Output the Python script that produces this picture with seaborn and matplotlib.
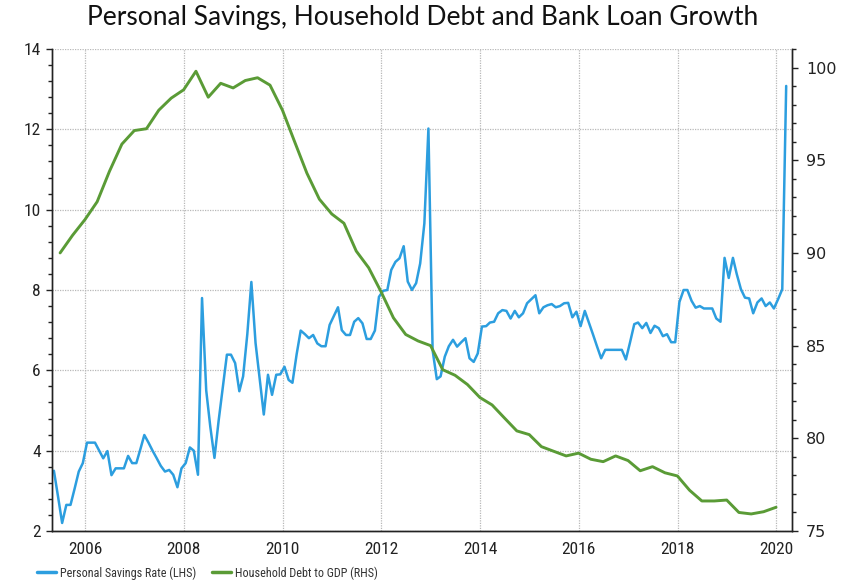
import numpy as np
import pandas as pd
import matplotlib
matplotlib.use("Agg")
import matplotlib.pyplot as plt
import matplotlib.dates as mdates
from matplotlib.lines import Line2D
from matplotlib.ticker import MultipleLocator
from matplotlib import font_manager
import seaborn as sns

# Personal savings rate, monthly, % (May 2005 - Mar 2020)
sr_2005 = [3.5, 2.85, 2.2, 2.65, 2.65, 3.05, 3.48, 3.69]
sr_2006 = [4.2, 4.2, 4.2, 4.0, 3.81, 3.99, 3.39, 3.56, 3.56, 3.56, 3.87, 3.69]
sr_2007 = [3.69, 4.05, 4.39, 4.2, 4.0, 3.81, 3.62, 3.48, 3.52, 3.4, 3.09, 3.56]
sr_2008 = [3.69, 4.08, 4.0, 3.4, 7.8, 5.5, 4.6, 3.82, 4.75, 5.55, 6.39, 6.39]
sr_2009 = [6.18, 5.48, 5.85, 6.9, 8.2, 6.68, 5.8, 4.9, 5.89, 5.39, 5.89, 5.9]
sr_2010 = [6.09, 5.76, 5.69, 6.4, 6.99, 6.9, 6.8, 6.88, 6.67, 6.6, 6.6, 7.13]
sr_2011 = [7.35, 7.57, 7.0, 6.88, 6.88, 7.21, 7.3, 7.17, 6.78, 6.78, 6.99, 7.83]
sr_2012 = [7.98, 8.0, 8.5, 8.7, 8.79, 9.09, 8.21, 8.0, 8.17, 8.66, 9.66, 12.02]
sr_2013 = [6.5, 5.78, 5.85, 6.34, 6.6, 6.76, 6.59, 6.7, 6.8, 6.3, 6.21, 6.42]
sr_2014 = [7.09, 7.1, 7.19, 7.21, 7.42, 7.5, 7.48, 7.29, 7.48, 7.32, 7.42, 7.67]
sr_2015 = [7.77, 7.87, 7.42, 7.57, 7.62, 7.65, 7.57, 7.6, 7.67, 7.68, 7.32, 7.46]
sr_2016 = [7.1, 7.48, 7.2, 6.9, 6.6, 6.3, 6.51, 6.51, 6.51, 6.51, 6.51, 6.27]
sr_2017 = [6.7, 7.15, 7.19, 7.05, 7.18, 6.93, 7.11, 7.05, 6.85, 6.9, 6.7, 6.7]
sr_2018 = [7.7, 8.0, 8.0, 7.73, 7.56, 7.6, 7.54, 7.54, 7.54, 7.29, 7.21, 8.8]
sr_2019 = [8.3, 8.8, 8.4, 8.02, 7.81, 7.79, 7.42, 7.69, 7.79, 7.6, 7.69, 7.54]
sr_2020 = [7.77, 8.02, 13.08]

# Household debt to GDP, quarterly, % (Q2 2005 - Q4 2019)
debt_gdp = [
    90.0, 90.95, 91.8, 92.76, 94.4, 95.87, 96.6, 96.7, 97.7, 98.35,
    98.8, 99.8, 98.4, 99.15, 98.9, 99.3, 99.45, 99.05, 97.7, 96.0,
    94.3, 92.9, 92.1, 91.6, 90.1, 89.2, 87.9, 86.5, 85.6, 85.25,
    85.0, 83.7, 83.4, 82.9, 82.2, 81.8, 81.1, 80.4, 80.2, 79.55,
    79.3, 79.05, 79.2, 78.87, 78.74, 79.05, 78.8, 78.25, 78.47, 78.14,
    77.97, 77.2, 76.62, 76.62, 76.67, 76.0, 75.92, 76.04, 76.28,
]

title = "Personal Savings, Household Debt and Bank Loan Growth"
label_lhs = "Personal Savings Rate (LHS)"
label_rhs = "Household Debt to GDP (RHS)"

savings = (sr_2005 + sr_2006 + sr_2007 + sr_2008 + sr_2009 + sr_2010 + sr_2011
           + sr_2012 + sr_2013 + sr_2014 + sr_2015 + sr_2016 + sr_2017 + sr_2018
           + sr_2019 + sr_2020)
months = pd.date_range("2005-05-01", periods=len(savings), freq="MS") + pd.Timedelta(days=14)
quarters = pd.date_range("2005-06-30", periods=len(debt_gdp), freq="QE")

df_sr = pd.DataFrame({"date": months, "value": savings})
df_debt = pd.DataFrame({"date": quarters, "value": debt_gdp})

BLUE = "#2C9EDF"
GREEN = "#5A9B36"

sns.set_style("white")


def _weight(f):
    w = f.weight
    if isinstance(w, str):
        return {"light": 300, "normal": 400, "regular": 400, "book": 400,
                "medium": 500, "bold": 700}.get(w, 400)
    return int(w)


def narrow_font():
    """Return (family, stretch, weight, found) for a condensed sans face, regular weight preferred."""
    entries = [f for f in font_manager.fontManager.ttflist if f.style == "normal"]
    named = ("Liberation Sans Narrow", "Open Sans Condensed", "Roboto Condensed",
             "Noto Sans Condensed", "DejaVu Sans Condensed", "Noto Sans SemiCondensed")
    stretched = ("Noto Sans", "Open Sans", "DejaVu Sans", "Roboto")
    for wanted in (400, 300):
        for fam in named:
            for f in entries:
                if f.name == fam and _weight(f) == wanted:
                    return fam, "normal", wanted, True
        for fam in stretched:
            for f in entries:
                if f.name == fam and _weight(f) == wanted and \
                        str(f.stretch) in ("condensed", "semi-condensed"):
                    return fam, f.stretch, wanted, True
    return "Liberation Sans", "normal", 400, False


NARROW, STRETCH, WEIGHT, HAS_NARROW = narrow_font()
plt.rcParams["font.family"] = [NARROW, "DejaVu Sans"]
plt.rcParams["font.stretch"] = STRETCH
plt.rcParams["font.weight"] = WEIGHT

fig = plt.figure(figsize=(8.45, 5.87), dpi=100)
ax = fig.add_axes([52 / 845, 1 - 531 / 587, (792 - 52) / 845, (531 - 49) / 587])
ax2 = ax.twinx()

sns.lineplot(data=df_sr, x="date", y="value", ax=ax, color=BLUE, linewidth=1.8, legend=False)
sns.lineplot(data=df_debt, x="date", y="value", ax=ax2, color=GREEN, linewidth=2.1, legend=False)

ax.set_xlim(pd.Timestamp("2005-05-01"), pd.Timestamp("2020-04-27"))
ax.set_ylim(2, 14)
ax2.set_ylim(75, 101)

ax.xaxis.set_major_locator(mdates.YearLocator(2))
ax.xaxis.set_major_formatter(mdates.DateFormatter("%Y"))
ax.xaxis.set_minor_locator(mdates.MonthLocator(bymonth=[1, 4, 7, 10]))
ax.yaxis.set_major_locator(MultipleLocator(2))
ax.yaxis.set_minor_locator(MultipleLocator(0.4))
ax2.set_yticks([75, 80, 85, 90, 95, 100])
ax2.yaxis.set_minor_locator(MultipleLocator(1))

ax.set_xlabel("")
ax.set_ylabel("")
ax2.set_ylabel("")

ax.grid(True, which="major", color="#b8b8b8", linestyle=(0, (1, 1)), linewidth=0.9)
ax.set_axisbelow(True)

for a in (ax, ax2):
    a.spines["top"].set_visible(False)
    for s in ("left", "right", "bottom"):
        a.spines[s].set_color("#222222")
        a.spines[s].set_linewidth(1.0)

tick_size = 12.5 if HAS_NARROW else 12
ax.tick_params(axis="both", which="major", direction="out", length=4, width=1,
               color="#222222", labelsize=tick_size, labelcolor="#222222", pad=4)
ax.tick_params(axis="both", which="minor", direction="out", length=3, width=1, color="#222222")
ax.tick_params(axis="y", which="both", right=False)
ax2.tick_params(axis="y", which="major", direction="out", length=4, width=1,
                color="#222222", labelsize=11.5, labelcolor="#222222", pad=6)
ax2.tick_params(axis="y", which="minor", direction="out", length=3, width=1, color="#222222")
for lbl in ax2.get_yticklabels():
    lbl.set_fontfamily("DejaVu Sans")
    lbl.set_fontstretch("normal")
    lbl.set_fontweight("normal")

fig.suptitle(title, x=0.5, y=1 - 17 / 587, va="center", fontsize=19,
             family=["Lato", "DejaVu Sans"], fontstretch="normal", fontweight="normal",
             color="#111111")

# Legend row under the axis: short line keys, no frame
handles = [Line2D([], [], color=BLUE, linewidth=2.5),
           Line2D([], [], color=GREEN, linewidth=2.5)]
legend_size = 8.7 if HAS_NARROW else 8.0
fig.legend(handles, [label_lhs, label_rhs], loc="center left",
           bbox_to_anchor=(37 / 845, 1 - 573 / 587), ncol=2, frameon=False,
           fontsize=legend_size, handlelength=1.6, handletextpad=0.3, columnspacing=1.3,
           borderpad=0.0, borderaxespad=0.0, labelcolor="#333333")

fig.savefig("out.png", dpi=100)
